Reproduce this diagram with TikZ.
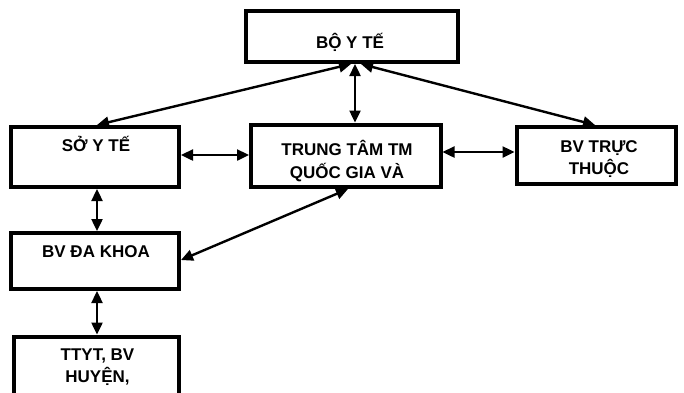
\documentclass[tikz,border=0pt]{standalone}
\usepackage{fontspec}
\setmainfont{Liberation Sans}
\usetikzlibrary{arrows.meta}
\tikzset{
  box/.style={draw=black, line width=4pt, rectangle, inner sep=0pt, fill=white},
  lbl/.style={anchor=base, inner sep=0pt, font=\fontsize{17}{20}\selectfont\bfseries, text=black},
  dbl/.style={line width=2.4pt, {Triangle[length=12pt,width=11pt]}-{Triangle[length=12pt,width=11pt]}}
}
\begin{document}
\begin{tikzpicture}[x=1pt,y=-1pt]
\useasboundingbox (0,0) rectangle (684,392);
\clip (0,0) rectangle (684,392);
\fill[white] (0,0) rectangle (684,392);
% boxes
\node[box, minimum width=211.5pt, minimum height=51pt] (boyte) at (351.75,36.5) {};
\node[box, minimum width=168pt, minimum height=60pt] (soyte) at (95,157) {};
\node[box, minimum width=189.5pt, minimum height=62.5pt] (trungtam) at (345.75,155.75) {};
\node[box, minimum width=159pt, minimum height=57pt] (bvtruc) at (596,155.5) {};
\node[box, minimum width=168pt, minimum height=56pt] (bvdk) at (95,261) {};
\node[box, minimum width=165pt, minimum height=83pt] (ttyt) at (96.5,378) {};
% texts
\node[lbl] (t1) at (350,48) {BỘ Y TẾ};
\node[lbl] (t2) at (96,151) {SỞ Y TẾ};
\node[lbl] (t3a) at (347,155) {TRUNG TÂM TM};
\node[lbl] (t3b) at (347,178) {QUỐC GIA VÀ};
\node[lbl] (t4a) at (599,152) {BV TRỰC};
\node[lbl] (t4b) at (599,174) {THUỘC};
\node[lbl] (t5) at (96,257) {BV ĐA KHOA};
\node[lbl] (t6a) at (97.5,360) {TTYT, BV};
\node[lbl] (t6b) at (97.5,382) {HUYỆN,};
% connectors
\draw[dbl] ([xshift=-0.75pt]boyte.south) -- ([xshift=2pt]soyte.north);
\draw[dbl] ([xshift=3.25pt]boyte.south) -- ([xshift=9.25pt]trungtam.north);
\draw[dbl] ([xshift=9.25pt]boyte.south) -- ([xshift=-1pt]bvtruc.north);
\draw[dbl] ([yshift=2pt]soyte.east) -- ([yshift=0.75pt]trungtam.west);
\draw[dbl] ([yshift=3.75pt]trungtam.east) -- ([yshift=3.5pt]bvtruc.west);
\draw[dbl] ([xshift=2pt]soyte.south) -- ([xshift=2pt]bvdk.north);
\draw[dbl] ([xshift=2.25pt]trungtam.south) -- ([yshift=1pt]bvdk.east);
\draw[dbl] ([xshift=2pt]bvdk.south) -- ([xshift=0.5pt]ttyt.north);
\end{tikzpicture}
\end{document}
